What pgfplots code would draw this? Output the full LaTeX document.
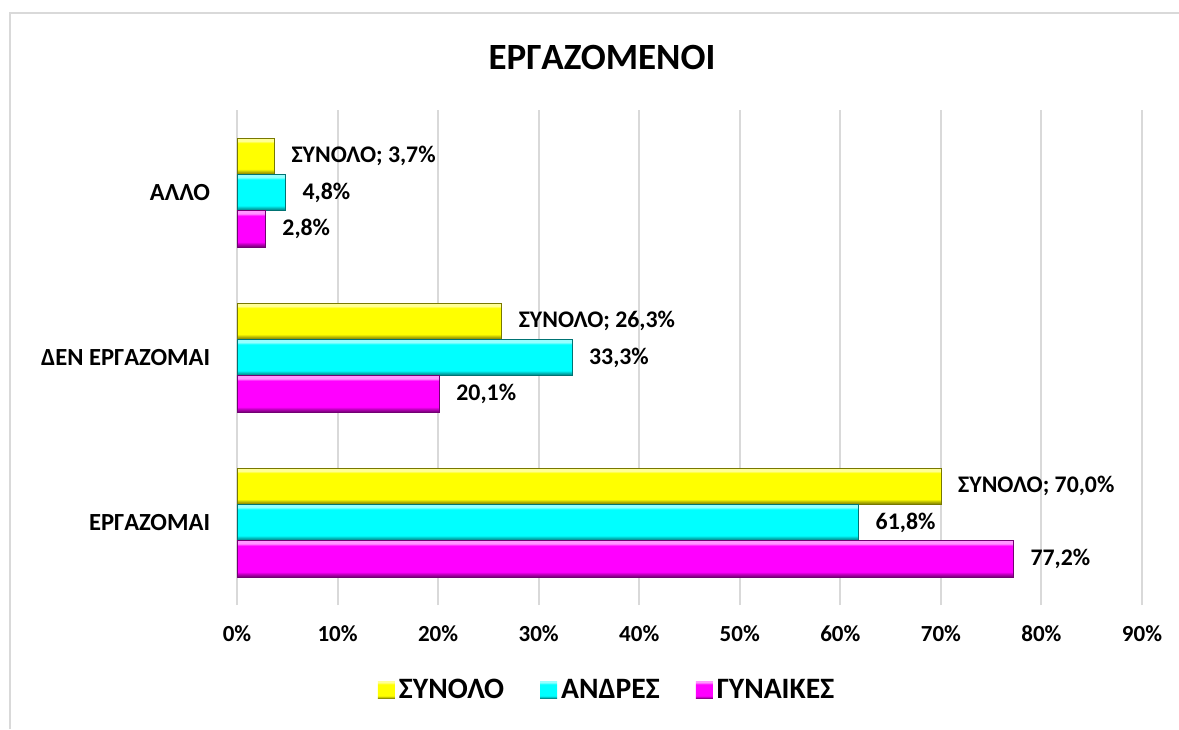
\documentclass[border=0pt]{standalone}
\usepackage{pgfplots}
\pgfplotsset{compat=1.18}
\usepackage{fontspec}
\setmainfont{Carlito}

\definecolor{gridc}{RGB}{217,217,217}
\definecolor{yel}{RGB}{255,255,0}
\definecolor{yellt}{RGB}{255,255,150}
\definecolor{yeldk}{RGB}{120,120,0}
\definecolor{yelmd}{RGB}{190,190,0}
\definecolor{cya}{RGB}{0,255,255}
\definecolor{cyalt}{RGB}{150,255,255}
\definecolor{cyadk}{RGB}{0,115,115}
\definecolor{cyamd}{RGB}{0,190,190}
\definecolor{mag}{RGB}{255,0,255}
\definecolor{maglt}{RGB}{255,150,255}
\definecolor{magdk}{RGB}{115,0,115}
\definecolor{magmd}{RGB}{190,0,190}

\pgfdeclareverticalshading{yelbev}{100bp}{color(0bp)=(yeldk); color(25bp)=(yeldk); color(29bp)=(yelmd); color(32bp)=(yel); color(68bp)=(yel); color(71bp)=(yellt); color(75bp)=(yellt); color(100bp)=(yellt)}
\pgfdeclareverticalshading{cyabev}{100bp}{color(0bp)=(cyadk); color(25bp)=(cyadk); color(29bp)=(cyamd); color(32bp)=(cya); color(68bp)=(cya); color(71bp)=(cyalt); color(75bp)=(cyalt); color(100bp)=(cyalt)}
\pgfdeclareverticalshading{magbev}{100bp}{color(0bp)=(magdk); color(25bp)=(magdk); color(29bp)=(magmd); color(32bp)=(mag); color(68bp)=(mag); color(71bp)=(maglt); color(75bp)=(maglt); color(100bp)=(maglt)}

\newcommand{\pct}{\pgfmathprintnumber[fixed,fixed zerofill,precision=1,use comma,assume math mode=true]{\pgfplotspointmeta}\%}

\pgfplotsset{
  yelbar/.style={shade, shading=yelbev, draw=yeldk, line width=0.3pt, bar shift=0.22, nodes near coords={ΣΥΝΟΛΟ; \pct}},
  cyabar/.style={shade, shading=cyabev, draw=cyadk, line width=0.3pt, bar shift=0, nodes near coords={\pct}},
  magbar/.style={shade, shading=magbev, draw=magdk, line width=0.3pt, bar shift=-0.22, nodes near coords={\pct}},
}

\begin{document}
\begin{tikzpicture}
\useasboundingbox (0,0) rectangle (589.5pt,-364.5pt);
\draw[gridc, line width=1pt] (5pt,-364.5pt) -- (5pt,-6.25pt) -- (589.5pt,-6.25pt);
\node[font=\fontsize{18.5}{22}\selectfont\bfseries] at (301pt,-28.5pt) {ΕΡΓΑΖΟΜΕΝΟΙ};
\begin{axis}[
  at={(118.5pt,-302.5pt)}, anchor=south west,
  scale only axis, width=452.5pt, height=247.5pt,
  xmin=0, xmax=90, ymin=-0.5, ymax=2.5,
  xtick={0,10,20,30,40,50,60,70,80,90},
  xticklabels={0\%,10\%,20\%,30\%,40\%,50\%,60\%,70\%,80\%,90\%},
  ytick={0,1,2},
  yticklabels={ΕΡΓΑΖΟΜΑΙ,ΔΕΝ ΕΡΓΑΖΟΜΑΙ,ΑΛΛΟ},
  axis line style={draw=none},
  tick style={draw=none},
  xmajorgrids,
  grid style={gridc, line width=1pt},
  xticklabel style={font=\fontsize{11.5}{13}\selectfont\bfseries, anchor=center, yshift=-14.5pt},
  yticklabel style={font=\fontsize{12.3}{14}\selectfont\bfseries, anchor=east, inner sep=0pt, xshift=-9pt},
  xbar,
  bar width=0.22,
  point meta=x,
  every node near coord/.append style={font=\fontsize{11.9}{14}\selectfont\bfseries, anchor=west, inner sep=0pt, xshift=8.5pt, text=black},
  legend columns=3,
  legend style={at={(0.41,-0.1717)}, anchor=center, draw=none, fill=none,
    font=\fontsize{14.8}{17}\selectfont\bfseries,
    /tikz/every even column/.append style={column sep=16pt},
    /tikz/every odd column/.append style={column sep=0pt}},
  legend image code/.code={\path[#1, draw=none] (0pt,-4.25pt) rectangle (8.5pt,4.25pt);},
]
\addplot[yelbar] coordinates {(70.0,0)};
\addlegendentry{ΣΥΝΟΛΟ}
\addplot[cyabar] coordinates {(61.8,0)};
\addlegendentry{ΑΝΔΡΕΣ}
\addplot[magbar] coordinates {(77.2,0)};
\addlegendentry{ΓΥΝΑΙΚΕΣ}
\addplot[yelbar, forget plot] coordinates {(26.3,1)};
\addplot[cyabar, forget plot] coordinates {(33.3,1)};
\addplot[magbar, forget plot] coordinates {(20.1,1)};
\addplot[yelbar, forget plot] coordinates {(3.7,2)};
\addplot[cyabar, forget plot] coordinates {(4.8,2)};
\addplot[magbar, forget plot] coordinates {(2.8,2)};
\end{axis}
\end{tikzpicture}
\end{document}
